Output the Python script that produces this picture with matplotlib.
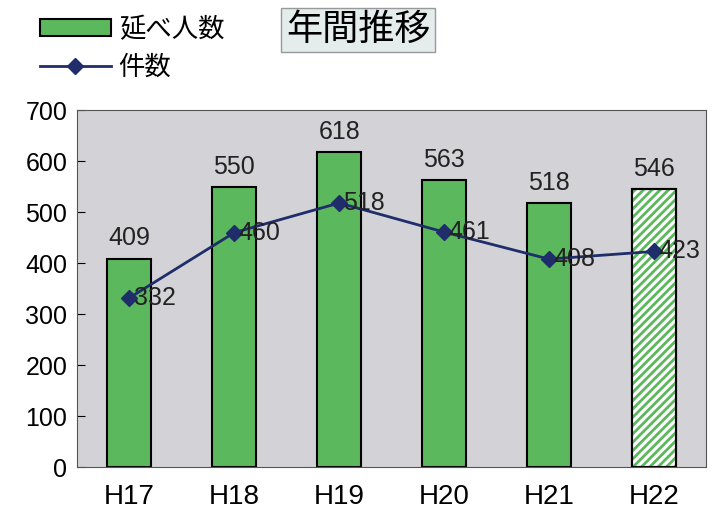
import matplotlib
matplotlib.use('Agg')
import matplotlib.pyplot as plt
from matplotlib.patches import Patch
from matplotlib.lines import Line2D

plt.rcParams['font.family'] = ['Noto Sans CJK JP', 'DejaVu Sans']
plt.rcParams['hatch.linewidth'] = 2.0

years = ['H17', 'H18', 'H19', 'H20', 'H21', 'H22']
nobe = [409, 550, 618, 563, 518, 546]
kensu = [332, 460, 518, 461, 408, 423]

green = '#5cb85c'
navy = '#1f2d6b'
num_font = ['Liberation Sans', 'DejaVu Sans']

fig = plt.figure(figsize=(7.16, 5.15), dpi=100)
ax = fig.add_axes([0.1075, 0.093, 0.879, 0.693])
ax.set_facecolor('#d3d3d7')

x = list(range(len(years)))
for i in x:
    if i == len(years) - 1:
        ax.bar(i, nobe[i], width=0.42, color='white', edgecolor='black',
               linewidth=1.5, zorder=2)
        ax.bar(i, nobe[i], width=0.42, color='none', edgecolor=green,
               hatch='////', linewidth=0, zorder=2)
        ax.bar(i, nobe[i], width=0.42, color='none', edgecolor='black',
               linewidth=1.5, zorder=2)
    else:
        ax.bar(i, nobe[i], width=0.42, color=green, edgecolor='black',
               linewidth=1.5, zorder=2)
    ax.text(i, nobe[i] + 16, str(nobe[i]), ha='center', va='bottom',
            fontsize=18, color='#222222', family=num_font)

ax.plot(x, kensu, color=navy, marker='D', markersize=8, linewidth=2, zorder=3)
for i in x:
    ax.text(i + 0.04, kensu[i], str(kensu[i]), ha='left', va='center',
            fontsize=18, color='#222222', family=num_font, zorder=4)

ax.set_xlim(-0.5, len(years) - 0.5)
ax.set_ylim(0, 700)
ax.set_yticks(range(0, 701, 100))
ax.set_xticks(x)
ax.set_xticklabels(years)
ax.tick_params(axis='y', direction='in', length=6, pad=7, labelsize=18)
ax.tick_params(axis='x', length=0, pad=12, labelsize=20)
for lab in ax.get_xticklabels() + ax.get_yticklabels():
    lab.set_family(num_font)
for s in ax.spines.values():
    s.set_color('#555555')

handles = [Patch(facecolor=green, edgecolor='black', linewidth=1.5),
           Line2D([0], [0], color=navy, marker='D', markersize=8, linewidth=2)]
fig.legend(handles, ['延べ人数', '件数'], loc='upper left',
           bbox_to_anchor=(0.022, 1.015), frameon=False, fontsize=19,
           handlelength=2.7, handleheight=0.6, handletextpad=0.3,
           labelspacing=0.4)

fig.text(0.5, 0.942, '年間推移', ha='center', va='center', fontsize=26,
         bbox=dict(boxstyle='square,pad=0.12', facecolor='#e4ecec', edgecolor='#999999'))

fig.savefig('out.png', dpi=100)
